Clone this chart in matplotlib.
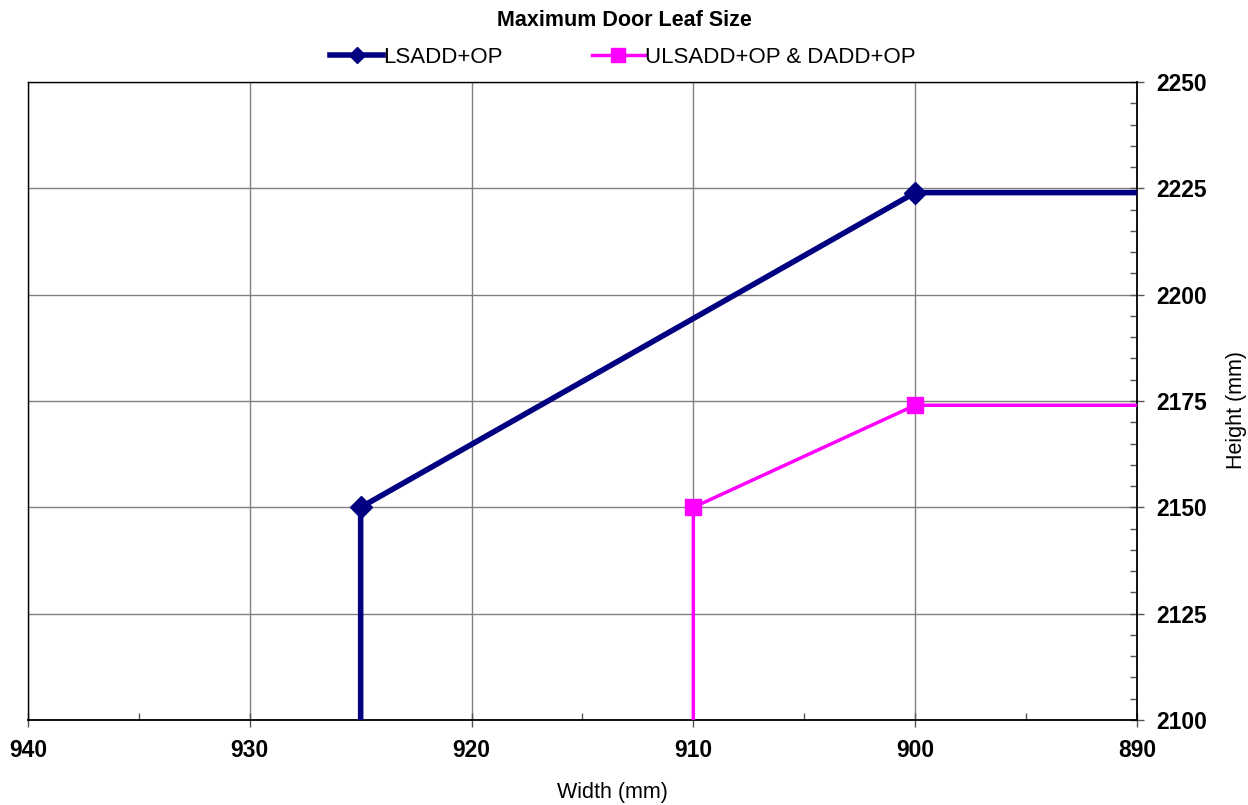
import matplotlib
matplotlib.use('Agg')
import matplotlib.pyplot as plt
from matplotlib.ticker import MultipleLocator
from matplotlib.lines import Line2D

plt.rcParams['font.family'] = ['Liberation Sans', 'DejaVu Sans']

# ------------------------------------------------------------------------------
# Data
# ------------------------------------------------------------------------------
lsadd_w = [925, 925, 900, 890]
lsadd_h = [2100, 2150, 2224, 2224]
ulsadd_w = [910, 910, 900, 890]
ulsadd_h = [2100, 2150, 2174, 2174]
marker_idx = [1, 2]

labels = ['LSADD+OP', 'ULSADD+OP & DADD+OP']
navy = '#000080'
pink = '#FF00FF'

# ------------------------------------------------------------------------------
# Plot
# ------------------------------------------------------------------------------
fig = plt.figure(figsize=(12.48, 8.05), dpi=100)
ax = fig.add_axes([0.0224, 0.1056, 0.8886, 0.7925])

ax.plot(lsadd_w, lsadd_h, color=navy, linewidth=4, marker='D', markersize=11,
        markevery=marker_idx, clip_on=False, zorder=4, solid_capstyle='butt')
ax.plot(ulsadd_w, ulsadd_h, color=pink, linewidth=2.5, marker='s', markersize=11,
        markevery=marker_idx, clip_on=False, zorder=3, solid_capstyle='butt')

ax.set_xlim(940, 890)
ax.set_ylim(2100, 2250)
ax.xaxis.set_major_locator(MultipleLocator(10))
ax.xaxis.set_minor_locator(MultipleLocator(5))
ax.yaxis.set_major_locator(MultipleLocator(25))
ax.yaxis.set_minor_locator(MultipleLocator(5))

ax.yaxis.tick_right()
ax.grid(True, which='major', color='#808080', linewidth=1.0)
ax.set_axisbelow(True)

for s in ['top', 'left']:
    ax.spines[s].set_color('black')
    ax.spines[s].set_linewidth(1.0)
ax.spines['right'].set_linewidth(1.3)
ax.spines['bottom'].set_linewidth(1.3)

ax.tick_params(axis='both', which='major', direction='inout', length=10,
               width=1, color='#555555', labelsize=16.5, pad=9)
ax.tick_params(axis='both', which='minor', direction='in', length=5,
               width=1, color='#555555')
for lbl in ax.get_xticklabels() + ax.get_yticklabels():
    lbl.set_fontweight('bold')

# axis titles placed as figure text so they sit where the reference has them
fig.text(0.4904, 0.015, 'Width (mm)', ha='center', va='center', fontsize=15.5)
fig.text(0.991, 0.491, 'Height (mm)', ha='center', va='center', fontsize=15.5,
         rotation=90)

fig.text(0.5, 0.974, 'Maximum Door Leaf Size', ha='center', va='center',
         fontsize=15.5, fontweight='bold')

handles = [Line2D([], [], color=navy, linewidth=4, marker='D', markersize=8),
           Line2D([], [], color=pink, linewidth=2.5, marker='s', markersize=10)]
fig.legend(handles, labels, loc='center', bbox_to_anchor=(0.499, 0.929), ncol=2,
           frameon=False, fontsize=16, handlelength=2.4, handletextpad=0.0,
           columnspacing=4.0)

fig.savefig('out.png', dpi=100)
